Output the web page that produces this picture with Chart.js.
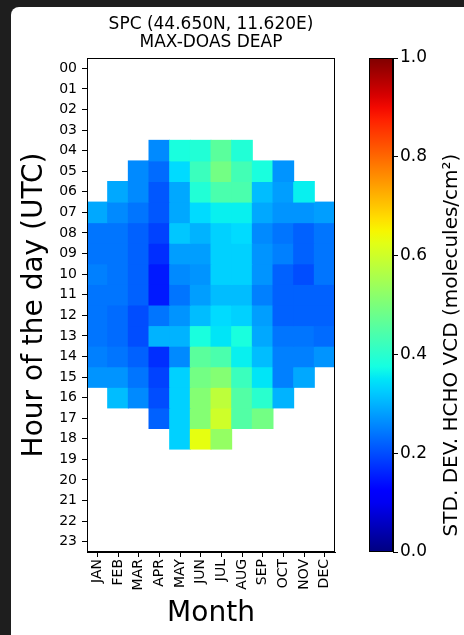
<!DOCTYPE html>
<html><head><meta charset="utf-8">
<script src="https://cdn.jsdelivr.net/npm/chart.js@4.4.0/dist/chart.umd.min.js"></script>
<style>
html,body{margin:0;padding:0;background:#1e1e1e;width:464px;height:635px;overflow:hidden}
#panel{position:absolute;left:11px;top:7px;width:453px;height:628px;background:#fff;border-top-left-radius:8px}
#main{position:absolute;left:0;top:0;width:340px;height:628px}
#cbar{position:absolute;left:340px;top:0;width:113px;height:628px}
</style></head>
<body>
<div id="panel"><div id="main"><canvas id="c1"></canvas></div><div id="cbar"><canvas id="c2"></canvas></div></div>
<script>
// ---------- data ----------
const months = ['JAN','FEB','MAR','APR','MAY','JUN','JUL','AUG','SEP','OCT','NOV','DEC'];
const hourLabels = ['00','01','02','03','04','05','06','07','08','09','10','11','12','13','14','15','16','17','18','19','20','21','22','23'];
const titleLines = ['SPC (44.650N, 11.620E)', 'MAX-DOAS DEAP'];
const xTitle = 'Month';
const yTitle = 'Hour of the day (UTC)';
const cbTitle = 'STD. DEV. HCHO VCD (molecules/cm\u00B2)';
const cbRange = [0, 1];
const cbTicks = [0, 0.2, 0.4, 0.6, 0.8, 1.0];

// std. dev. per hour (JAN..DEC), null = no data
const emptyRow = [null,null,null,null,null,null,null,null,null,null,null,null];
const h04 = [null,null,null,0.26,0.38,0.39,0.46,0.39,null,null,null,null];
const h05 = [null,null,0.26,0.23,0.34,0.42,0.49,0.43,0.38,0.27,null,null];
const h06 = [null,0.29,0.26,0.21,0.29,0.39,0.44,0.44,0.31,0.28,0.36,null];
const h07 = [0.29,0.26,0.24,0.21,0.29,0.34,0.36,0.36,0.29,0.27,0.27,0.28];
const h08 = [0.24,0.24,0.22,0.19,0.32,0.30,0.33,0.34,0.26,0.24,0.22,0.24];
const h09 = [0.24,0.24,0.22,0.17,0.28,0.28,0.33,0.33,0.27,0.25,0.22,0.24];
const h10 = [0.25,0.24,0.22,0.15,0.26,0.27,0.33,0.33,0.27,0.22,0.20,0.24];
const h11 = [0.24,0.24,0.22,0.15,0.24,0.28,0.31,0.31,0.25,0.22,0.22,0.22];
const h12 = [0.24,0.23,0.20,0.24,0.27,0.31,0.34,0.33,0.28,0.22,0.22,0.22];
const h13 = [0.24,0.23,0.20,0.30,0.30,0.38,0.35,0.38,0.29,0.24,0.24,0.23];
const h14 = [0.25,0.24,0.22,0.17,0.26,0.46,0.44,0.36,0.31,0.25,0.25,0.27];
const h15 = [0.27,0.27,0.24,0.19,0.33,0.49,0.51,0.42,0.35,0.25,0.29,null];
const h16 = [null,0.31,0.26,0.20,0.33,0.51,0.58,0.45,0.40,0.30,null,null];
const h17 = [null,null,null,0.22,0.33,0.51,0.60,0.45,0.49,null,null,null];
const h18 = [null,null,null,null,0.33,0.63,0.53,null,null,null,null,null];
const gridRows = [emptyRow,emptyRow,emptyRow,emptyRow,h04,h05,h06,h07,h08,h09,h10,h11,h12,h13,h14,h15,h16,h17,h18,emptyRow,emptyRow,emptyRow,emptyRow,emptyRow];

// ---------- jet colormap ----------
function interp(v, pts){
  for (let i = 1; i < pts.length; i++) {
    if (v <= pts[i][0]) {
      const [x0,y0] = pts[i-1], [x1,y1] = pts[i];
      return y0 + (y1 - y0) * (v - x0) / (x1 - x0);
    }
  }
  return pts[pts.length-1][1];
}
function jet(v){
  v = Math.max(0, Math.min(1, v));
  const r = interp(v, [[0,0],[0.35,0],[0.66,1],[0.89,1],[1,0.5]]);
  const g = interp(v, [[0,0],[0.125,0],[0.375,1],[0.64,1],[0.91,0],[1,0]]);
  const b = interp(v, [[0,0.5],[0.11,1],[0.34,1],[0.65,0],[1,0]]);
  return `rgb(${Math.round(r*255)},${Math.round(g*255)},${Math.round(b*255)})`;
}

Chart.defaults.font.family = "'DejaVu Sans', sans-serif";
Chart.defaults.color = '#000';

const framePlugin = {
  id: 'frame',
  afterDatasetsDraw(chart){
    const {ctx, chartArea:a} = chart;
    ctx.save();
    ctx.strokeStyle = '#000';
    ctx.lineWidth = 1;
    ctx.strokeRect(Math.round(a.left) + 0.5, Math.round(a.top) + 0.5, Math.round(a.right - a.left) - 1, Math.round(a.bottom - a.top) - 1);
    ctx.restore();
  }
};

// ---------- main heatmap ----------
const datasets = gridRows.map((row, h) => ({
  label: hourLabels[h],
  data: row.map(v => v === null ? null : [h - 0.5, h + 0.5]),
  backgroundColor: row.map(v => v === null ? 'rgba(0,0,0,0)' : jet(v)),
  borderWidth: 0,
  inflateAmount: 0.5,
  grouped: false,
  barPercentage: 1,
  categoryPercentage: 1
}));

new Chart(document.getElementById('c1'), {
  type: 'bar',
  data: { labels: months, datasets },
  options: {
    responsive: true, maintainAspectRatio: false, animation: false,
    layout: { padding: { left: 0, right: 16, top: 0, bottom: 0 } },
    scales: {
      x: {
        type: 'category',
        grid: { drawOnChartArea: false, tickLength: 5, color: '#000', offset: false },
        border: { display: true, color: '#000' },
        ticks: { font: { size: 14 }, color: '#000', minRotation: 90, maxRotation: 90, autoSkip: false, padding: 2 },
        title: { display: true, text: xTitle, font: { size: 28 }, color: '#000', padding: { top: 0, bottom: 4 } },
        afterFit: s => { s.height = 83; }
      },
      y: {
        type: 'linear', reverse: true, min: -0.5, max: 23.5,
        afterBuildTicks: s => { s.ticks = hourLabels.map((_, i) => ({ value: i })); },
        grid: { drawOnChartArea: false, tickLength: 5, color: '#000' },
        border: { display: true, color: '#000' },
        ticks: { font: { size: 14 }, color: '#000', autoSkip: false, padding: 5, callback: v => hourLabels[v] },
        title: { display: true, text: yTitle, font: { size: 28 }, color: '#000', padding: { top: 7, bottom: 0 } },
        afterFit: s => { s.width = 76; }
      }
    },
    plugins: {
      legend: { display: false },
      tooltip: { enabled: false },
      title: { display: true, text: titleLines, fullSize: false, color: '#000',
               font: { size: 17, weight: 'normal', lineHeight: 18/17 }, padding: { top: 9, bottom: 6 } }
    }
  },
  plugins: [framePlugin]
});

// ---------- colorbar ----------
const cbLabelPlugin = {
  id: 'cbLabel',
  afterDraw(chart){
    const {ctx, chartArea:a} = chart;
    ctx.save();
    ctx.translate(101, (a.top + a.bottom) / 2 + 40);
    ctx.rotate(-Math.PI / 2);
    ctx.font = "20px 'DejaVu Sans', sans-serif";
    ctx.fillStyle = '#000';
    ctx.textAlign = 'center';
    ctx.textBaseline = 'middle';
    ctx.fillText(cbTitle, 0, 0);
    ctx.restore();
  }
};

function cbGradient(ctx){
  const chart = ctx.chart;
  const a = chart.chartArea;
  if (!a) return '#000';
  const y = chart.scales.y;
  const g = chart.ctx.createLinearGradient(0, y.getPixelForValue(cbRange[0]), 0, y.getPixelForValue(cbRange[1]));
  for (let k = 0; k <= 40; k++) g.addColorStop(k / 40, jet(cbRange[0] + (cbRange[1] - cbRange[0]) * k / 40));
  return g;
}

new Chart(document.getElementById('c2'), {
  type: 'bar',
  data: { labels: [''], datasets: [{ data: [cbRange], backgroundColor: cbGradient, borderWidth: 0,
           barPercentage: 1, categoryPercentage: 1, inflateAmount: 0 }] },
  options: {
    responsive: true, maintainAspectRatio: false, animation: false,
    layout: { padding: { left: 18, right: 0, top: 51, bottom: 83 } },
    scales: {
      x: { display: false },
      y: {
        position: 'right', min: cbRange[0], max: cbRange[1],
        afterBuildTicks: s => { s.ticks = cbTicks.map(v => ({ value: v })); },
        grid: { drawOnChartArea: false, tickLength: 5, color: '#000' },
        border: { display: true, color: '#000' },
        ticks: { font: { size: 17 }, color: '#000', padding: 2, callback: v => Number(v).toFixed(1) },
        afterFit: s => { s.width = 71; }
      }
    },
    plugins: { legend: { display: false }, tooltip: { enabled: false } }
  },
  plugins: [framePlugin, cbLabelPlugin]
});
</script>
</body></html>
